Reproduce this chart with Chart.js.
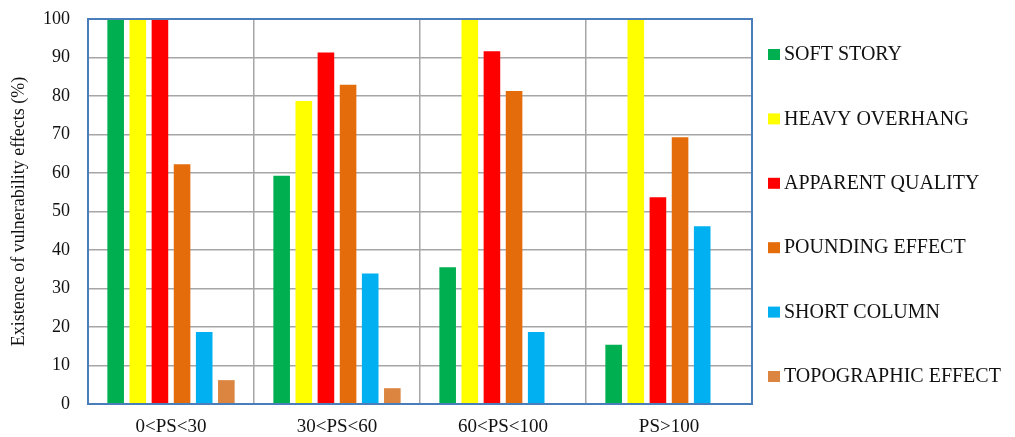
<!DOCTYPE html>
<html>
<head>
<meta charset="utf-8">
<script src="https://cdn.jsdelivr.net/npm/chart.js@4/dist/chart.umd.min.js"></script>
<style>
  html, body { margin: 0; padding: 0; background: #ffffff; }
  #wrap { width: 1015px; height: 437px; }
</style>
</head>
<body>
<div id="wrap"><canvas id="chart" width="1015" height="437"></canvas></div>
<script>
// Plot-size classes
const categories = ['0<PS<30', '30<PS<60', '60<PS<100', 'PS>100'];

// Share of buildings showing each vulnerability effect (%)
const softStory        = [100, 59.3, 35.5, 15.4];
const heavyOverhang    = [100, 78.7, 100, 100];
const apparentQuality  = [100, 91.3, 91.6, 53.7];
const poundingEffect   = [62.3, 82.9, 81.3, 69.3];
const shortColumn      = [18.7, 33.9, 18.7, 46.2];
const topographicEffect = [6.2, 4.1, 0, 0];

const seriesNames = ['SOFT STORY', 'HEAVY OVERHANG', 'APPARENT QUALITY', 'POUNDING EFFECT', 'SHORT COLUMN', 'TOPOGRAPHIC EFFECT'];
const seriesColors = ['#00b050', '#ffff00', '#ff0000', '#e46c0a', '#00b0f0', '#dc8540'];
const seriesValues = [softStory, heavyOverhang, apparentQuality, poundingEffect, shortColumn, topographicEffect];

const yTicks = [0, 10, 20, 30, 40, 50, 60, 70, 80, 90, 100];

const FONT = '"Liberation Serif", "Times New Roman", serif';

// Blue frame round the plot area, drawn over the bars
const frame = {
  id: 'frame',
  afterDatasetsDraw(chart) {
    const a = chart.chartArea, ctx = chart.ctx;
    ctx.save();
    ctx.strokeStyle = '#4a7ebb';
    ctx.lineWidth = 2;
    ctx.strokeRect(a.left, a.top, a.right - a.left, a.bottom - a.top);
    ctx.restore();
  }
};

// Legend column at the right of the plot
const sideLegend = {
  id: 'sideLegend',
  afterDraw(chart) {
    const ctx = chart.ctx;
    const x = chart.chartArea.right + 16;
    const y0 = 54, step = 64.4;
    ctx.save();
    ctx.font = '20px ' + FONT;
    ctx.textBaseline = 'middle';
    ctx.textAlign = 'left';
    chart.data.datasets.forEach((ds, i) => {
      const y = y0 + i * step;
      ctx.fillStyle = ds.backgroundColor;
      ctx.fillRect(x, y - 5, 12, 11);
      ctx.fillStyle = '#111111';
      ctx.fillText(ds.label, x + 16, y + 1);
    });
    ctx.restore();
  }
};

new Chart(document.getElementById('chart'), {
  type: 'bar',
  data: {
    labels: categories,
    datasets: seriesNames.map((name, i) => ({
      label: name,
      data: seriesValues[i],
      backgroundColor: seriesColors[i],
      borderWidth: 0,
      categoryPercentage: 0.8,
      barPercentage: 0.75
    }))
  },
  options: {
    responsive: false,
    animation: false,
    layout: { padding: { left: 0, top: 19, right: 263, bottom: 0 } },
    plugins: {
      legend: { display: false },
      tooltip: { enabled: false }
    },
    scales: {
      x: {
        grid: { color: '#a6a6a6', lineWidth: 1.5, drawTicks: false, offset: true },
        border: { color: '#7f8fa6', width: 1.5 },
        ticks: { color: '#111111', font: { family: FONT, size: 19 }, padding: 12, maxRotation: 0 },
        afterFit(scale) { scale.height = 33; }
      },
      y: {
        min: 0,
        max: 100,
        afterBuildTicks(scale) { scale.ticks = yTicks.map(v => ({ value: v })); },
        grid: { color: '#a6a6a6', lineWidth: 1.5, drawTicks: false },
        border: { color: '#4a7ebb', width: 2 },
        ticks: { color: '#111111', font: { family: FONT, size: 18 }, padding: 18 },
        title: {
          display: true,
          text: 'Existence of vulnerability effects (%)',
          color: '#111111',
          font: { family: FONT, size: 18 },
          padding: { top: 8, bottom: 0 }
        },
        afterFit(scale) {
          scale.width = 88;
          scale.paddingTop = 0;
          scale.paddingBottom = 0;
        }
      }
    }
  },
  plugins: [frame, sideLegend]
});
</script>
</body>
</html>
